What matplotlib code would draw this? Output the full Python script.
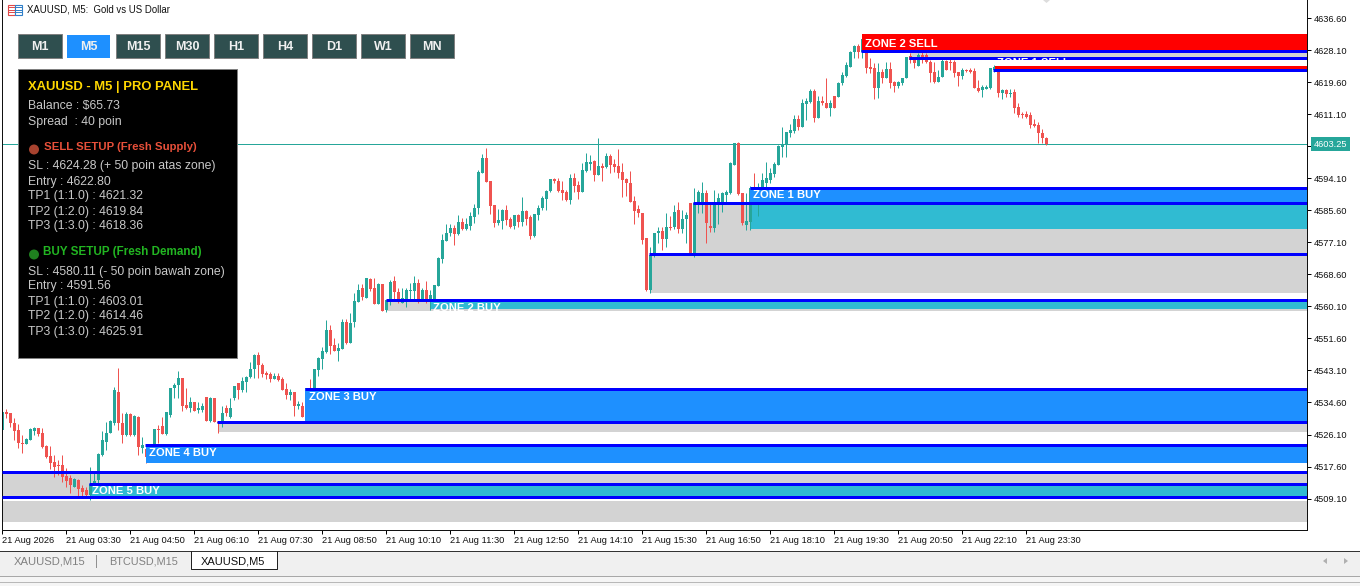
import matplotlib
matplotlib.use("Agg")
import matplotlib.pyplot as plt
from matplotlib.patches import Rectangle, Circle

plt.rcParams["font.family"] = ["Liberation Sans", "DejaVu Sans"]

W, H = 1360, 586

# candles, 5 minute bars
opens = [
    4527.3, 4532.1, 4531.8, 4529.2, 4527.3, 4523.8, 4523.5, 4524.6, 4527.0, 4527.8,
    4526.5, 4523.0, 4520.4, 4518.8, 4518.0, 4518.0, 4515.1, 4514.5, 4512.2, 4514.0,
    4511.9, 4511.4, 4510.0, 4513.0, 4514.0, 4520.7, 4524.1, 4526.5, 4529.2, 4537.4,
    4529.2, 4526.0, 4531.5, 4526.0, 4530.8, 4522.5, 4522.2, 4520.9, 4523.3, 4527.6,
    4528.4, 4526.2, 4531.3, 4538.4, 4539.2, 4541.1, 4533.9, 4533.1, 4534.7, 4532.6,
    4532.6, 4536.1, 4529.7, 4535.8, 4529.4, 4529.4, 4533.1, 4530.8, 4535.8, 4539.8,
    4537.9, 4540.0, 4541.4, 4543.5, 4547.2, 4544.6, 4542.4, 4542.2, 4540.8, 4541.6,
    4540.8, 4538.2, 4536.6, 4537.4, 4533.7, 4533.7, 4530.8, 4538.2, 4538.4, 4543.2,
    4546.1, 4548.0, 4553.9, 4549.9, 4548.3, 4548.8, 4556.0, 4550.4, 4556.0, 4561.3,
    4565.0, 4562.4, 4567.4, 4565.0, 4560.8, 4566.1, 4559.2, 4561.8, 4566.9, 4564.0,
    4561.0, 4561.8, 4564.2, 4564.2, 4566.3, 4561.8, 4564.5, 4561.8, 4561.8, 4565.5,
    4572.7, 4577.5, 4579.6, 4580.9, 4579.4, 4582.5, 4580.7, 4581.5, 4583.9, 4586.3,
    4595.5, 4599.5, 4593.4, 4587.1, 4582.3, 4582.8, 4585.7, 4583.3, 4581.5, 4584.4,
    4582.5, 4585.5, 4583.9, 4578.8, 4584.4, 4586.3, 4588.6, 4590.8, 4594.0, 4593.4,
    4591.0, 4590.5, 4588.4, 4594.2, 4592.4, 4590.5, 4596.1, 4597.9, 4598.7, 4595.0,
    4597.4, 4597.1, 4600.1, 4597.9, 4597.4, 4595.8, 4594.0, 4592.9, 4588.1, 4586.0,
    4584.9, 4578.3, 4564.5, 4573.5, 4579.6, 4580.1, 4578.0, 4581.2, 4581.2, 4585.7,
    4580.7, 4583.3, 4587.6, 4573.8, 4587.6, 4587.6, 4590.2, 4581.5, 4580.9, 4587.6,
    4587.6, 4589.7, 4590.2, 4597.7, 4603.5, 4590.2, 4581.7, 4582.5, 4591.6, 4588.4,
    4591.8, 4592.9, 4593.7, 4595.3, 4597.7, 4602.5, 4603.3, 4606.2, 4606.7, 4609.9,
    4607.8, 4613.9, 4614.4, 4617.3, 4610.2, 4614.7, 4614.1, 4612.8, 4616.0, 4615.7,
    4619.5, 4621.3, 4623.7, 4627.7, 4629.3, 4627.7, 4628.2, 4623.7, 4623.4, 4618.1,
    4622.4, 4620.8, 4623.2, 4619.7, 4618.7, 4619.5, 4620.8, 4626.6, 4625.8, 4624.0,
    4626.9, 4626.9, 4625.0, 4622.4, 4619.7, 4621.0, 4625.3, 4625.0, 4625.0, 4622.4,
    4621.3, 4622.9, 4622.9, 4622.6, 4618.1, 4617.6, 4617.9, 4618.1, 4622.9, 4622.4,
    4616.8, 4617.6, 4616.5, 4617.1, 4613.1, 4611.2, 4611.2, 4610.9, 4608.6, 4608.3,
    4606.2, 4604.8,
]
highs = [
    4532.6, 4532.9, 4531.8, 4530.5, 4528.9, 4526.0, 4525.2, 4527.8, 4528.1, 4527.8,
    4527.8, 4523.3, 4523.0, 4520.7, 4519.3, 4520.7, 4517.2, 4515.3, 4514.5, 4514.3,
    4512.7, 4512.2, 4517.5, 4516.1, 4521.2, 4527.0, 4529.4, 4530.0, 4538.7, 4543.8,
    4531.8, 4532.1, 4531.8, 4531.3, 4531.0, 4525.4, 4523.3, 4523.0, 4527.6, 4528.6,
    4530.8, 4532.1, 4538.4, 4539.8, 4543.0, 4541.1, 4538.4, 4536.1, 4534.7, 4534.7,
    4534.5, 4536.1, 4536.1, 4535.8, 4529.4, 4533.7, 4533.9, 4535.8, 4539.0, 4539.8,
    4541.4, 4541.6, 4545.4, 4547.5, 4548.0, 4545.1, 4543.0, 4542.7, 4542.4, 4542.4,
    4541.4, 4539.8, 4538.2, 4537.4, 4535.0, 4534.7, 4538.4, 4540.8, 4543.5, 4546.7,
    4549.3, 4556.5, 4555.2, 4551.7, 4550.4, 4556.8, 4556.8, 4558.4, 4563.7, 4566.1,
    4566.1, 4567.7, 4567.7, 4567.7, 4566.3, 4566.1, 4561.8, 4567.1, 4568.2, 4565.0,
    4565.0, 4565.0, 4566.3, 4568.2, 4567.4, 4565.0, 4566.9, 4564.5, 4565.8, 4573.2,
    4579.4, 4582.0, 4582.0, 4581.7, 4584.4, 4583.6, 4583.6, 4585.2, 4587.3, 4596.3,
    4600.6, 4602.2, 4593.4, 4587.1, 4586.0, 4586.0, 4587.1, 4583.9, 4584.4, 4584.7,
    4589.2, 4585.7, 4584.4, 4584.7, 4587.1, 4589.4, 4591.0, 4594.0, 4594.2, 4594.2,
    4593.4, 4591.0, 4595.3, 4595.5, 4593.4, 4598.2, 4600.9, 4600.3, 4599.0, 4604.8,
    4598.2, 4600.9, 4600.6, 4599.3, 4601.9, 4598.2, 4594.2, 4596.1, 4589.4, 4587.1,
    4584.9, 4578.3, 4575.9, 4579.6, 4581.2, 4581.2, 4584.9, 4584.1, 4587.1, 4587.9,
    4585.7, 4585.2, 4587.6, 4591.6, 4591.0, 4593.2, 4591.0, 4587.6, 4591.0, 4590.2,
    4590.5, 4591.0, 4598.5, 4603.5, 4603.8, 4590.2, 4590.2, 4592.1, 4595.5, 4592.9,
    4595.5, 4598.5, 4596.9, 4598.5, 4603.0, 4607.8, 4606.4, 4608.6, 4611.0, 4611.0,
    4615.2, 4615.5, 4617.9, 4617.9, 4616.0, 4616.0, 4620.8, 4614.9, 4616.0, 4619.7,
    4622.4, 4625.0, 4628.0, 4629.6, 4629.8, 4632.5, 4630.9, 4626.1, 4624.8, 4624.8,
    4623.2, 4625.0, 4625.0, 4620.0, 4620.0, 4620.8, 4626.4, 4627.4, 4626.1, 4627.4,
    4627.7, 4627.4, 4625.6, 4625.0, 4622.9, 4625.8, 4625.6, 4625.8, 4625.6, 4622.4,
    4623.4, 4623.2, 4623.4, 4623.4, 4620.3, 4618.9, 4618.9, 4623.4, 4624.2, 4623.4,
    4617.9, 4617.9, 4617.9, 4617.9, 4614.1, 4611.8, 4612.0, 4611.8, 4609.9, 4609.1,
    4607.2, 4605.1,
]
lows = [
    4527.0, 4530.5, 4528.1, 4524.6, 4522.5, 4521.2, 4523.5, 4524.6, 4526.0, 4525.7,
    4522.5, 4519.9, 4516.9, 4514.8, 4515.3, 4513.5, 4512.2, 4510.6, 4512.2, 4509.5,
    4509.5, 4509.5, 4508.7, 4513.0, 4513.0, 4520.4, 4522.0, 4526.5, 4528.6, 4527.3,
    4523.8, 4525.7, 4525.7, 4525.7, 4520.7, 4521.2, 4518.5, 4520.4, 4522.8, 4523.8,
    4526.2, 4526.0, 4530.8, 4535.8, 4535.8, 4532.3, 4532.9, 4532.1, 4532.3, 4531.8,
    4532.1, 4529.7, 4529.4, 4529.4, 4526.5, 4528.1, 4531.0, 4530.5, 4535.3, 4535.5,
    4537.4, 4537.4, 4541.1, 4541.1, 4541.1, 4541.4, 4540.8, 4540.0, 4540.8, 4540.3,
    4537.9, 4535.5, 4535.3, 4531.0, 4532.9, 4530.8, 4530.5, 4533.9, 4537.9, 4541.6,
    4543.5, 4547.7, 4547.5, 4548.3, 4545.6, 4548.8, 4550.1, 4550.4, 4554.7, 4561.3,
    4561.8, 4562.4, 4564.2, 4560.8, 4560.8, 4558.9, 4558.6, 4560.5, 4561.8, 4561.0,
    4561.0, 4560.0, 4561.8, 4561.8, 4561.0, 4561.8, 4561.0, 4559.2, 4561.8, 4565.5,
    4571.6, 4577.5, 4578.8, 4576.4, 4579.1, 4580.4, 4580.4, 4580.4, 4582.3, 4584.7,
    4595.5, 4593.2, 4584.7, 4581.2, 4581.7, 4580.7, 4581.7, 4580.9, 4580.7, 4581.2,
    4581.5, 4581.7, 4578.0, 4578.6, 4583.1, 4585.7, 4585.7, 4590.5, 4592.9, 4590.5,
    4588.4, 4588.1, 4587.3, 4590.5, 4588.6, 4590.5, 4595.8, 4596.3, 4593.4, 4595.0,
    4593.4, 4596.9, 4595.5, 4595.8, 4594.2, 4589.2, 4589.4, 4587.8, 4582.0, 4583.9,
    4576.7, 4564.2, 4563.7, 4573.2, 4577.0, 4575.1, 4575.9, 4580.4, 4580.7, 4579.6,
    4579.6, 4577.0, 4573.8, 4573.2, 4584.9, 4584.9, 4577.0, 4579.9, 4579.9, 4582.0,
    4585.2, 4587.6, 4590.0, 4597.7, 4589.7, 4581.7, 4580.4, 4580.4, 4588.4, 4584.1,
    4591.0, 4591.8, 4592.9, 4594.5, 4597.7, 4599.8, 4599.8, 4605.1, 4606.2, 4607.0,
    4607.8, 4609.6, 4614.1, 4609.1, 4610.2, 4613.6, 4612.8, 4610.7, 4612.8, 4615.7,
    4618.9, 4621.0, 4623.7, 4626.1, 4626.1, 4626.1, 4622.1, 4622.1, 4615.2, 4615.5,
    4619.5, 4620.8, 4618.1, 4617.1, 4618.1, 4618.9, 4620.8, 4624.8, 4623.4, 4624.0,
    4624.8, 4624.8, 4619.7, 4619.5, 4619.7, 4621.0, 4622.9, 4622.9, 4621.0, 4618.7,
    4620.5, 4622.4, 4622.1, 4618.1, 4617.1, 4615.7, 4617.9, 4617.9, 4622.4, 4615.7,
    4615.2, 4615.7, 4615.7, 4611.5, 4610.4, 4610.2, 4610.2, 4607.5, 4607.8, 4603.5,
    4603.5, 4603.0,
]
closes = [
    4532.1, 4531.5, 4529.2, 4527.0, 4523.8, 4523.5, 4524.9, 4527.6, 4527.8, 4526.2,
    4522.8, 4520.1, 4518.5, 4517.5, 4517.7, 4514.8, 4513.8, 4512.7, 4514.3, 4511.6,
    4510.8, 4510.0, 4513.0, 4513.8, 4520.9, 4524.6, 4526.5, 4529.7, 4537.9, 4529.2,
    4526.0, 4531.5, 4526.0, 4531.0, 4522.8, 4523.3, 4520.1, 4522.8, 4527.6, 4527.3,
    4526.2, 4532.1, 4538.4, 4539.2, 4541.1, 4533.7, 4533.1, 4534.7, 4532.3, 4533.1,
    4533.7, 4529.7, 4535.8, 4529.4, 4529.2, 4531.8, 4531.8, 4533.1, 4539.0, 4537.9,
    4540.3, 4541.4, 4543.5, 4547.2, 4544.6, 4542.2, 4541.9, 4540.8, 4541.6, 4540.6,
    4537.9, 4536.6, 4537.4, 4533.7, 4534.2, 4530.8, 4538.4, 4535.3, 4543.5, 4546.4,
    4548.3, 4553.9, 4549.6, 4548.3, 4549.1, 4556.0, 4550.4, 4555.7, 4561.6, 4564.5,
    4562.6, 4567.7, 4564.7, 4560.8, 4566.1, 4558.9, 4561.8, 4566.6, 4564.0, 4561.8,
    4562.4, 4564.5, 4564.5, 4566.3, 4561.8, 4564.5, 4561.8, 4563.1, 4565.8, 4573.0,
    4577.8, 4579.6, 4580.9, 4579.4, 4582.5, 4580.7, 4582.0, 4584.1, 4586.3, 4595.8,
    4599.5, 4593.2, 4586.8, 4582.3, 4583.1, 4585.7, 4583.1, 4581.2, 4584.4, 4582.5,
    4585.5, 4583.3, 4578.8, 4584.7, 4586.3, 4588.9, 4590.8, 4594.0, 4593.4, 4590.8,
    4590.2, 4588.4, 4594.2, 4592.1, 4590.5, 4596.3, 4598.5, 4598.5, 4595.0, 4597.4,
    4596.9, 4600.1, 4597.7, 4597.1, 4595.5, 4593.7, 4592.9, 4587.8, 4585.5, 4584.9,
    4577.8, 4564.5, 4573.8, 4579.6, 4580.1, 4578.0, 4581.2, 4580.9, 4585.2, 4580.7,
    4583.3, 4584.4, 4574.3, 4587.6, 4590.5, 4590.2, 4582.3, 4580.9, 4587.3, 4588.9,
    4590.2, 4590.5, 4598.2, 4603.5, 4590.0, 4582.3, 4582.8, 4591.6, 4589.4, 4589.4,
    4593.7, 4594.2, 4595.5, 4597.9, 4602.7, 4603.3, 4606.4, 4607.0, 4609.9, 4607.8,
    4614.1, 4614.7, 4617.3, 4610.2, 4614.7, 4614.1, 4612.8, 4614.1, 4612.8, 4619.5,
    4621.6, 4624.2, 4627.7, 4629.3, 4627.7, 4631.1, 4623.4, 4623.2, 4618.1, 4622.4,
    4620.8, 4623.2, 4619.5, 4618.7, 4619.7, 4620.8, 4626.4, 4625.6, 4624.8, 4626.9,
    4625.6, 4625.0, 4622.1, 4619.7, 4621.0, 4625.3, 4622.9, 4624.8, 4622.1, 4621.3,
    4622.9, 4622.6, 4622.4, 4618.1, 4617.3, 4618.4, 4618.4, 4623.4, 4623.7, 4616.8,
    4617.6, 4616.5, 4616.8, 4612.8, 4610.9, 4610.9, 4610.4, 4608.3, 4608.0, 4606.2,
    4604.8, 4603.25,
]
last_price = 4603.25

# zones: start bar, top price, bottom price
gray_zones = [
    (226.9, 4627.7, 4626.1), (172.9, 4587.6, 4574.0), (161.9, 4574.0, 4563.7),
    (95.9, 4561.6, 4558.9), (53.9, 4529.2, 4526.8), (0, 4515.9, 4509.5), (0, 4508.5, 4502.9),
]
teal_zones = [(186.9, 4587.1, 4580.7), (106.9, 4561.3, 4559.4), (21.9, 4512.7, 4509.8)]
blue_zones = [(186.9, 4591.8, 4587.6), (75.7, 4538.2, 4529.4), (35.9, 4523.0, 4518.5)]
red_zones = [(214.9, 4632.5, 4628.0), (248.2, 4624.0, 4622.9)]
# blue lines: start bar, price
zone_lines = [
    (214.7, 4628.0), (226.7, 4626.0), (247.7, 4622.8), (186.9, 4591.7), (172.7, 4587.5),
    (161.7, 4574.0), (95.9, 4561.7), (75.7, 4538.1), (53.7, 4529.4), (35.7, 4523.2),
    (0, 4516.1), (21.7, 4513.0), (0, 4509.4),
]
zone_labels = [
    ("ZONE 2 SELL", 215.7, 4629.9), ("ZONE 1 SELL", 248.7, 4624.9), ("ZONE 1 BUY", 187.6, 4589.7),
    ("ZONE 2 BUY", 107.7, 4559.8), ("ZONE 3 BUY", 76.7, 4536.1), ("ZONE 4 BUY", 36.7, 4521.2),
    ("ZONE 5 BUY", 22.4, 4511.1),
]

price_ticks = [4636.6, 4628.1, 4619.6, 4611.1, 4602.6, 4594.1, 4585.6, 4577.1, 4568.6,
               4560.1, 4551.6, 4543.1, 4534.6, 4526.1, 4517.6, 4509.1]
time_tick_bars = list(range(0, 262, 16))
time_labels = ["21 Aug 2026", "21 Aug 03:30", "21 Aug 04:50", "21 Aug 06:10", "21 Aug 07:30",
               "21 Aug 08:50", "21 Aug 10:10", "21 Aug 11:30", "21 Aug 12:50", "21 Aug 14:10",
               "21 Aug 15:30", "21 Aug 16:50", "21 Aug 18:10", "21 Aug 19:30", "21 Aug 20:50",
               "21 Aug 22:10", "21 Aug 23:30"]

timeframes = ["M1", "M5", "M15", "M30", "H1", "H4", "D1", "W1", "MN"]
active_tf = "M5"
panel_lines = [
    ("XAUUSD - M5 | PRO PANEL", 87, "title"),
    ("Balance : $65.73", 106.5, "body"),
    ("Spread  : 40 poin", 121.5, "body"),
    ("SELL SETUP (Fresh Supply)", 146.5, "sell"),
    ("SL : 4624.28 (+ 50 poin atas zone)", 166.5, "body"),
    ("Entry : 4622.80", 181.5, "body"),
    ("TP1 (1:1.0) : 4621.32", 196.5, "body"),
    ("TP2 (1:2.0) : 4619.84", 211.5, "body"),
    ("TP3 (1:3.0) : 4618.36", 226.5, "body"),
    ("BUY SETUP (Fresh Demand)", 251.5, "buy"),
    ("SL : 4580.11 (- 50 poin bawah zone)", 271.5, "body"),
    ("Entry : 4591.56", 286.5, "body"),
    ("TP1 (1:1.0) : 4603.01", 301.5, "body"),
    ("TP2 (1:2.0) : 4614.46", 316.5, "body"),
    ("TP3 (1:3.0) : 4625.91", 331.5, "body"),
]
tab_names = ["XAUUSD,M15", "BTCUSD,M15", "XAUUSD,M5"]

UP = "#26A69A"
DOWN = "#EF5350"
ZONE_BLUE = "#1E90FF"
ZONE_TEAL = "#30BBD2"
ZONE_GRAY = "#D3D3D3"
PX = 72 / 100  # one pixel in points

fig = plt.figure(figsize=(W / 100, H / 100), dpi=100, facecolor="white")
# left edge just under a half pixel, agg rounds wicks up otherwise and they leave the body centre
ax = fig.add_axes([2.4 / W, (H - 530.4) / H, 1305 / W, 530.4 / H], zorder=1)
ax.set_xlim(0, 326.25)
ax.set_ylim(4500.63, 4641.5)


def draw_boxes(boxes, color, z):
    for start, top, bottom in boxes:
        ax.add_patch(Rectangle((start, bottom), 326.25 - start, top - bottom, fc=color, ec="none", zorder=z))


draw_boxes(gray_zones, ZONE_GRAY, 1)
draw_boxes(teal_zones, ZONE_TEAL, 1.5)

ax.axhline(last_price, color=UP, lw=PX, zorder=1.8)

bars = list(range(len(opens)))
colors = [UP if c >= o else DOWN for o, c in zip(opens, closes)]
ax.vlines(bars, lows, highs, colors=colors, lw=PX, zorder=2)
ax.bar(bars, [abs(c - o) for o, c in zip(opens, closes)], bottom=[min(o, c) for o, c in zip(opens, closes)],
       width=0.75, color=colors, linewidth=0, zorder=2.1)

draw_boxes(blue_zones, ZONE_BLUE, 3)
draw_boxes(red_zones, "#FF0000", 3)
for start, price in zone_lines:
    ax.plot([start, 326.25], [price, price], color="#0000FF", lw=3 * PX, solid_capstyle="butt", zorder=4)
for text, start, price in zone_labels:
    ax.text(start, price, text, color="white", fontsize=8.1, fontweight="bold", va="center", ha="left", zorder=5, clip_on=True)

ax.spines["top"].set_visible(False)
for side in ["left", "right", "bottom"]:
    ax.spines[side].set_linewidth(PX)
    ax.spines[side].set_color("#111111")
ax.yaxis.tick_right()
ax.set_yticks(price_ticks)
ax.set_yticklabels(["%.2f" % p for p in price_ticks], fontsize=6.7, color="#111111")
ax.tick_params(axis="y", length=3, width=PX, pad=1.5)
ax.set_xticks(time_tick_bars)
ax.set_xticklabels(time_labels, fontsize=6.7, ha="left", color="#111111")
ax.tick_params(axis="x", length=3, width=PX, pad=1)
ax.text(1.0046, last_price, "%.2f" % last_price, transform=ax.get_yaxis_transform(), fontsize=6.7, color="white",
        va="center", ha="left", zorder=6, clip_on=False,
        bbox=dict(fc=UP, ec="none", boxstyle="square,pad=0.3"))

# window furniture, in pixels
ui = fig.add_axes([0, 0, 1, 1], zorder=2)
ui.set_xlim(0, W)
ui.set_ylim(H, 0)
ui.axis("off")
ui.patch.set_alpha(0)

# title bar
ui.add_patch(Rectangle((7.5, 4.5), 7, 10, fc="white", ec="#E04848", lw=0.8))
ui.add_patch(Rectangle((14.5, 4.5), 7, 10, fc="white", ec="#2F7FC8", lw=0.8))
for row in [7, 9.5, 12]:
    ui.plot([9, 13.5], [row, row], color="#E04848", lw=0.7)
    ui.plot([16, 20.5], [row, row], color="#2F7FC8", lw=0.7)
ui.text(27, 9.5, "XAUUSD, M5:  Gold vs US Dollar", fontsize=6.9, color="#111111", va="center")
ui.fill([1043, 1050, 1046.5], [0, 0, 3], color="#DDDDDD", lw=0)

# timeframe buttons
for k, tf in enumerate(timeframes):
    x0 = 18 + 49 * k
    if tf == active_tf:
        ui.add_patch(Rectangle((x0, 35), 43, 23, fc=ZONE_BLUE, ec="none"))
    else:
        ui.add_patch(Rectangle((x0, 34), 44, 24, fc="#2F4F4F", ec="#808080", lw=PX))
    ui.text(x0 + 22, 46.5, tf, color="#F0F0F0", fontsize=9, fontweight="bold", ha="center", va="center")

# info panel
ui.add_patch(Rectangle((17.9, 68.9), 219.2, 289.2, fc="black", ec="#808080", lw=PX, zorder=3))
panel_styles = {
    "title": dict(color="#FFD700", fontsize=9.4, fontweight="bold", x=28),
    "body": dict(color="#C8C8C8", fontsize=8.83, x=28),
    "sell": dict(color="#E8503A", fontsize=8.2, fontweight="bold", x=44),
    "buy": dict(color="#22B522", fontsize=8.33, fontweight="bold", x=43),
}
for text, y, kind in panel_lines:
    style = dict(panel_styles[kind])
    x = style.pop("x")
    ui.text(x, y, text, va="center", ha="left", zorder=4, **style)
ui.add_patch(Circle((34, 149.5), 5, fc="#A8432F", ec="none", zorder=4))
ui.add_patch(Circle((34, 254.5), 5, fc="#1F7F1F", ec="none", zorder=4))

# tab strip
ui.add_patch(Rectangle((0, 551), W, 25.5, fc="#F0F0F0", ec="none"))
ui.add_patch(Rectangle((0, 576.5), W, 9.5, fc="#F5F5F5", ec="none"))
ui.plot([0, W], [551, 551], color="#333333", lw=PX)
ui.plot([0, W], [576, 576], color="#A8A8A8", lw=PX)
ui.plot([0, W], [582, 582], color="#B8B8B8", lw=PX)
ui.add_patch(Rectangle((191, 552), 86, 17, fc="white", ec="none"))
ui.plot([190.6, 190.6, 277, 277], [551, 569, 569, 551], color="#222222", lw=PX)
ui.plot([96, 96], [555, 567], color="#909090", lw=PX)
ui.text(14, 561, tab_names[0], fontsize=8.1, color="#808080", va="center")
ui.text(109, 561, tab_names[1], fontsize=7.8, color="#808080", va="center")
ui.text(201, 561, tab_names[2], fontsize=8.0, color="#111111", va="center")
ui.fill([1327, 1327, 1323], [558, 564, 561], color="#B0B0B0", lw=0)
ui.fill([1344, 1344, 1348], [558, 564, 561], color="#B0B0B0", lw=0)

fig.savefig("out.png", dpi=100)
